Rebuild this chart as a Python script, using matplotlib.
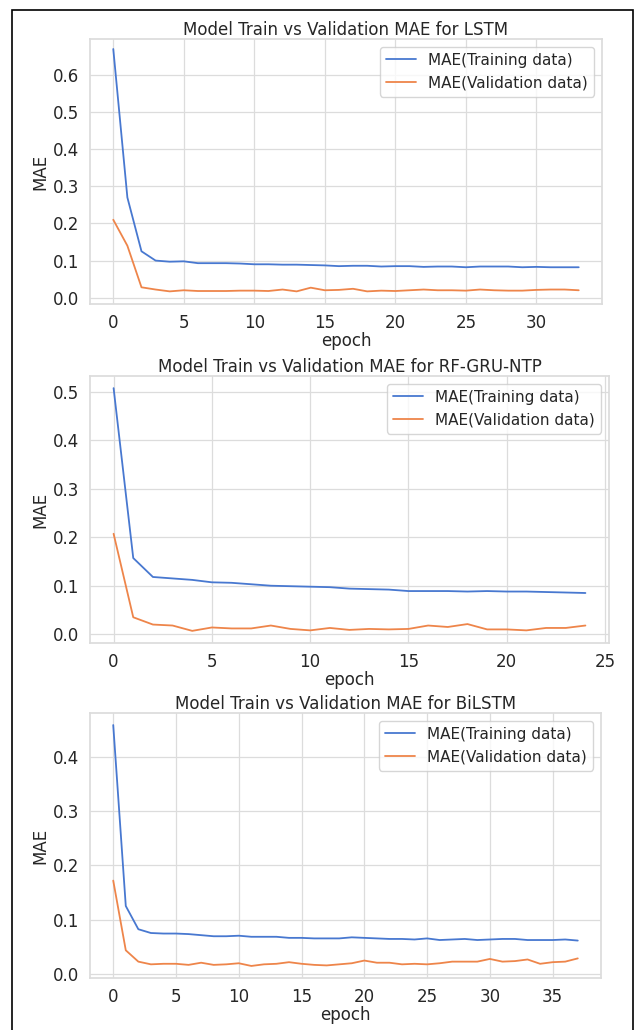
import numpy as np
import matplotlib
matplotlib.use("Agg")
import matplotlib.pyplot as plt
import seaborn as sns
from matplotlib.patches import Rectangle
from matplotlib.ticker import MultipleLocator

sns.set_theme(style="whitegrid", palette="muted")
plt.rcParams['font.family'] = ['DejaVu Sans']

# ==============================
# TRAINING HISTORY (MAE per epoch)
# ==============================
lstm_train = [0.670, 0.270, 0.125, 0.100, 0.097, 0.098, 0.093, 0.093, 0.093, 0.092,
              0.090, 0.090, 0.089, 0.089, 0.088, 0.087, 0.085, 0.086, 0.086, 0.084,
              0.085, 0.085, 0.083, 0.084, 0.084, 0.082, 0.084, 0.084, 0.084, 0.082,
              0.083, 0.082, 0.082, 0.082]
lstm_val = [0.210, 0.140, 0.028, 0.022, 0.017, 0.020, 0.018, 0.018, 0.018, 0.019,
            0.019, 0.018, 0.022, 0.017, 0.027, 0.020, 0.021, 0.024, 0.017, 0.019,
            0.018, 0.020, 0.022, 0.020, 0.020, 0.019, 0.022, 0.020, 0.019, 0.019,
            0.021, 0.022, 0.022, 0.020]

gru_train = [0.507, 0.157, 0.118, 0.115, 0.112, 0.107, 0.106, 0.103, 0.100, 0.099,
             0.098, 0.097, 0.094, 0.093, 0.092, 0.089, 0.089, 0.089, 0.088, 0.089,
             0.088, 0.088, 0.087, 0.086, 0.085]
gru_val = [0.207, 0.035, 0.020, 0.018, 0.007, 0.014, 0.012, 0.012, 0.018, 0.011,
           0.008, 0.013, 0.009, 0.011, 0.010, 0.011, 0.018, 0.015, 0.021, 0.010,
           0.010, 0.008, 0.013, 0.013, 0.018]

bilstm_train = [0.460, 0.125, 0.082, 0.075, 0.074, 0.074, 0.073, 0.071, 0.069, 0.069,
                0.070, 0.068, 0.068, 0.068, 0.066, 0.066, 0.065, 0.065, 0.065, 0.067,
                0.066, 0.065, 0.064, 0.064, 0.063, 0.065, 0.062, 0.063, 0.064, 0.062,
                0.063, 0.064, 0.064, 0.062, 0.062, 0.062, 0.063, 0.061]
bilstm_val = [0.172, 0.043, 0.022, 0.017, 0.018, 0.018, 0.016, 0.020, 0.016, 0.017,
              0.019, 0.014, 0.017, 0.018, 0.021, 0.018, 0.016, 0.015, 0.017, 0.019,
              0.024, 0.020, 0.020, 0.017, 0.018, 0.017, 0.019, 0.022, 0.022, 0.022,
              0.027, 0.022, 0.023, 0.026, 0.018, 0.021, 0.022, 0.028]

MODELS = ["LSTM", "RF-GRU-NTP", "BiLSTM"]
HISTORIES = [(lstm_train, lstm_val), (gru_train, gru_val), (bilstm_train, bilstm_val)]
YLIMS = [(-0.017, 0.697), None, None]

# axes boxes in pixels: left, right, top, bottom
W, H = 636, 1030
BOXES = [(90, 602, 39, 304), (90, 609, 376, 643), (90, 601, 713, 978)]

fig = plt.figure(figsize=(W / 100, H / 100), dpi=100)

for name, (train, val), ylim, (l, r, t, b) in zip(MODELS, HISTORIES, YLIMS, BOXES):
    ax = fig.add_axes([l / W, 1 - b / H, (r - l) / W, (b - t) / H])
    ax.plot(train, label="MAE(Training data)", lw=1.3)
    ax.plot(val, label="MAE(Validation data)", lw=1.3)
    if ylim is not None:
        ax.set_ylim(*ylim)
    ax.yaxis.set_major_locator(MultipleLocator(0.1))
    ax.set_title(f"Model Train vs Validation MAE for {name}", fontsize=12, pad=3)
    ax.set_xlabel("epoch", fontsize=12, labelpad=0)
    ax.set_ylabel("MAE", fontsize=12, labelpad=3)
    ax.tick_params(labelsize=12, pad=1.5)
    ax.grid(lw=0.9, color="#dcdcdc")
    for s in ax.spines.values():
        s.set_color("#dcdcdc")
    ax.legend(loc="upper right", fontsize=11)

# frame round the whole figure
fig.patches.append(Rectangle((12 / W, -0.01), (633 - 12) / W, 1 - 10 / H + 0.01,
                             transform=fig.transFigure, fill=False,
                             edgecolor="black", lw=1.2))

plt.savefig("out.png", dpi=100)
